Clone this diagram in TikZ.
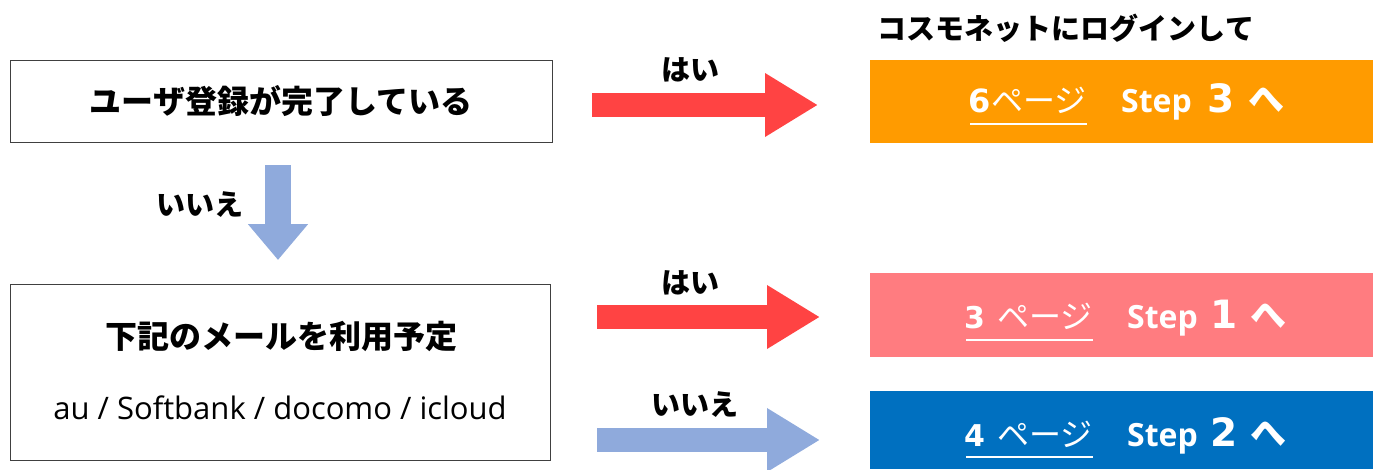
\documentclass[tikz,border=0pt]{standalone}
\usepackage{fontspec}
\setmainfont{Open Sans}
\newfontfamily\jp{Noto Sans CJK JP}
\newfontfamily\lat{Open Sans}
\newfontfamily\dig{DejaVu Sans}
\usetikzlibrary{arrows.meta,calc}
\definecolor{cRed}{HTML}{FF4343}
\definecolor{cLB}{HTML}{8FAADC}
\definecolor{cOr}{HTML}{FF9B00}
\definecolor{cPk}{HTML}{FF7C80}
\definecolor{cBl}{HTML}{0070C0}
\definecolor{cBd}{HTML}{404040}
\newcommand{\fs}[1]{\fontsize{#1}{#1}\selectfont}
\begin{document}
\begin{tikzpicture}[x=1pt,y=-1pt,
  qbox/.style={draw=cBd, line width=1pt, inner sep=0pt},
  rbox/.style={fill=#1, inner sep=0pt, minimum width=503pt},
  lab/.style={inner sep=0pt, font=\jp\bfseries\fs{29}},
  harrow/.style={draw=#1, line width=24pt, -{Triangle[length=53pt,width=60pt,fill=#1]}},
  varrow/.style={draw=#1, line width=26pt, -{Triangle[length=36pt,width=58pt,fill=#1]}},
  rtext/.style={inner sep=0pt, anchor=base west, text=white},
  pnum/.style={rtext, font=\dig\bfseries\fs{#1}},
  pjp/.style={rtext, font=\jp\fs{32}},
  stp/.style={rtext, font=\lat\bfseries\fs{32}},
  bnum/.style={rtext, font=\dig\bfseries\fs{39}},
  he/.style={rtext, font=\jp\bfseries\fs{36}},
  uline/.style={draw=white, line width=2.5pt}]
\useasboundingbox (0,0) rectangle (1373,469);

% question boxes
\node[qbox, minimum width=542pt, minimum height=82pt] (q1) at (281,101)
  {\jp\bfseries\fs{32}ユーザ登録が完了している};
\node[qbox, minimum width=540pt, minimum height=176pt] (q2) at (280,372) {};
\node[inner sep=0pt] (q2a) at (281,336) {\jp\bfseries\fs{32}下記のメールを利用予定};
\node[inner sep=0pt] (q2b) at (280,408) {\lat\fs{31}au / Softbank / docomo / icloud};

% title
\node[lab] (title) at (1066,28) {コスモネットにログインして};

% result boxes
\node[rbox=cOr, minimum height=83pt] (r3) at (1121.5,101.5) {};
\node[rbox=cPk, minimum height=84pt] (r1) at (1121.5,315) {};
\node[rbox=cBl, minimum height=78pt] (r2) at (1121.5,430) {};

% orange: 6 page, Step 3
\node[pnum=32] (o6) at (968,112) {6};
\node[pjp] (opg) at (991,112) {ページ};
\node[stp] (ost) at (1121,112) {Step};
\node[bnum] (o3) at (1207,112) {3};
\node[he] (ohe) at (1248,112) {へ};
\draw[uline] ($(o6.base west)+(2,12)$) -- ($(opg.base east)+(0,12)$);

% pink: 3 page, Step 1
\node[pnum=30] (k3) at (964,328) {3};
\node[pjp] (kpg) at (997,328) {ページ};
\node[stp] (kst) at (1127,328) {Step};
\node[bnum] (k1) at (1210,328) {1};
\node[he] (khe) at (1250,328) {へ};
\draw[uline] ($(k3.base west)+(2,12)$) -- ($(kpg.base east)+(0,12)$);

% blue: 4 page, Step 2
\node[pnum=30] (b4) at (964,446) {4};
\node[pjp] (bpg) at (997,446) {ページ};
\node[stp] (bst) at (1127,446) {Step};
\node[bnum] (b2) at (1210,446) {2};
\node[he] (bhe) at (1250,446) {へ};
\draw[uline] ($(b4.base west)+(2,11)$) -- ($(bpg.base east)+(0,11)$);

% arrows
\coordinate (a1s) at (592,105);
\coordinate (a1e) at (818,105);
\coordinate (a2s) at (597,317);
\coordinate (a2e) at (820,317);
\coordinate (a3s) at (597,440);
\coordinate (a3e) at (820,440);
\coordinate (dns) at (278,165);
\coordinate (dne) at (278,260);
\draw[harrow=cRed] (a1s) -- (a1e);
\draw[harrow=cRed] (a2s) -- (a2e);
\draw[harrow=cLB] (a3s) -- (a3e);
\draw[varrow=cLB] (dns) -- (dne);

% arrow labels
\node[lab] (y1) at (690,70) {はい};
\node[lab] (y2) at (690,283) {はい};
\node[lab] (n2) at (695,405) {いいえ};
\node[lab] (n1) at (200,205) {いいえ};
\end{tikzpicture}
\end{document}
